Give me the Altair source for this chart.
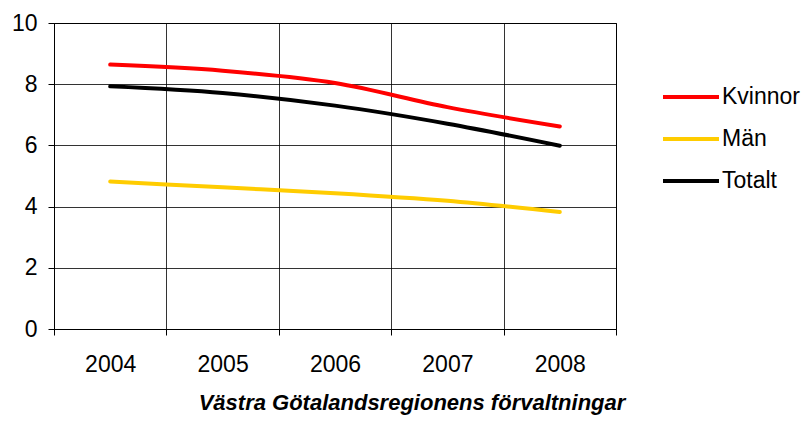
import altair as alt
import pandas as pd

years = ["2004", "2005", "2006", "2007", "2008"]
kvinnor = [8.64, 8.44, 8.04, 7.25, 6.62]
man = [4.82, 4.63, 4.44, 4.19, 3.82]
totalt = [7.93, 7.71, 7.30, 6.71, 5.99]

series_names = ["Kvinnor", "Män", "Totalt"]
series_colors = ["#FF0000", "#FFCC00", "#000000"]

rows = []
for name, vals in zip(series_names, [kvinnor, man, totalt]):
    for y, v in zip(years, vals):
        rows.append({"year": y, "value": v, "series": name})
df = pd.DataFrame(rows)

FONT = "Liberation Sans"

chart = alt.Chart(df).mark_line(strokeWidth=4, strokeCap="round", interpolate="monotone").encode(
    x=alt.X(
        "year:O",
        bandPosition=0.5,
        scale=alt.Scale(type="band", paddingInner=0, paddingOuter=0),
        axis=alt.Axis(
            title=None, labelAngle=0, tickBand="extent", grid=True,
            gridColor="#000000", gridOpacity=0.8, tickColor="#000000", tickSize=6,
            domainColor="#000000", labelFontSize=23, labelFont=FONT, labelColor="#000000",
            labelPadding=18,
        ),
    ),
    y=alt.Y(
        "value:Q",
        scale=alt.Scale(domain=[0, 10], nice=False),
        axis=alt.Axis(
            title=None, values=[0, 2, 4, 6, 8, 10], grid=True, gridColor="#000000", gridOpacity=0.8,
            tickColor="#000000", tickSize=6, domainColor="#000000", labelFontSize=23,
            labelFont=FONT, labelColor="#000000", labelPadding=11,
        ),
    ),
    color=alt.Color(
        "series:N",
        scale=alt.Scale(domain=series_names, range=series_colors),
        legend=alt.Legend(
            title=None, orient="none", legendX=607, legendY=62, symbolType="stroke",
            symbolSize=3136, symbolStrokeWidth=4, clipHeight=24, rowPadding=18,
            labelFontSize=23, labelFont=FONT, labelColor="#000000", labelOffset=1, padding=0,
        ),
    ),
).properties(
    width=562,
    height=306,
    autosize="none",
    padding={"left": 46, "top": 15, "right": 185, "bottom": 86},
    title=alt.TitleParams(
        "Västra Götalandsregionens förvaltningar", orient="bottom", anchor="middle",
        fontSize=22, fontWeight="bold", fontStyle="italic", font=FONT, color="#000000",
        dx=77, offset=17,
    ),
).configure_view(stroke="#000000", strokeWidth=1)

chart.save("out.html", embed_options={"renderer": "svg", "actions": False})
